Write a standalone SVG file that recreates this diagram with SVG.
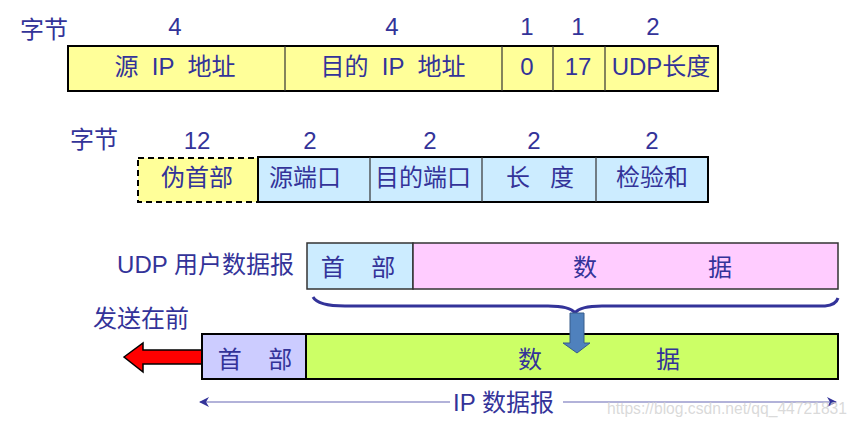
<svg xmlns="http://www.w3.org/2000/svg" width="858" height="425" viewBox="0 0 858 425">
<defs>
<style>
text{font-family:"Liberation Sans","Noto Sans CJK SC",sans-serif;font-size:24px;fill:#333399}
.c{text-anchor:middle}
.box{stroke:#000;stroke-width:2}
.div{stroke:#333;stroke-width:1.2}
.yl{fill:#FFFF99}.bl{fill:#CCECFF}.pk{fill:#FFCCFF}.pu{fill:#CCCCFF}.gr{fill:#CCFF66}
.wm{font-size:16px;fill:#d0d0d0;fill-opacity:0.8}
</style>
<marker id="ah" viewBox="0 0 10 10" refX="9" refY="5" markerWidth="10" markerHeight="10" markerUnits="userSpaceOnUse" orient="auto-start-reverse">
<path d="M0,0 L10,5 L0,10 L3,5 Z" fill="#333399"/>
</marker>
</defs>
<rect width="858" height="425" fill="#fff"/>

<g id="row1">
<text x="20" y="38">字节</text>
<text class="c" x="175" y="35">4</text>
<text class="c" x="392" y="35">4</text>
<text class="c" x="527" y="35">1</text>
<text class="c" x="578" y="35">1</text>
<text class="c" x="653" y="35">2</text>
<rect class="yl box" x="68" y="46" width="650" height="45"/>
<line class="div" x1="285" y1="46" x2="285" y2="91"/>
<line class="div" x1="502" y1="46" x2="502" y2="91"/>
<line class="div" x1="553" y1="46" x2="553" y2="91"/>
<line class="div" x1="605" y1="46" x2="605" y2="91"/>
<text class="c" x="175" y="75" xml:space="preserve">源  IP  地址</text>
<text class="c" x="393" y="75" xml:space="preserve">目的  IP  地址</text>
<text class="c" x="527" y="75">0</text>
<text class="c" x="578" y="75">17</text>
<text class="c" x="661" y="75">UDP长度</text>
</g>

<g id="row2">
<text x="70" y="148">字节</text>
<text class="c" x="197" y="149">12</text>
<text class="c" x="310" y="149">2</text>
<text class="c" x="430" y="149">2</text>
<text class="c" x="534" y="149">2</text>
<text class="c" x="652" y="149">2</text>
<rect class="yl" x="138" y="158" width="120" height="44" stroke="#000" stroke-width="2" stroke-dasharray="6,4"/>
<rect class="bl box" x="258" y="157" width="450" height="45"/>
<line class="div" x1="370" y1="157" x2="370" y2="202"/>
<line class="div" x1="482" y1="157" x2="482" y2="202"/>
<line class="div" x1="596" y1="157" x2="596" y2="202"/>
<text class="c" x="197" y="186">伪首部</text>
<text class="c" x="305" y="186">源端口</text>
<text class="c" x="423" y="186">目的端口</text>
<text class="c" x="540" y="186" xml:space="preserve">长   度</text>
<text class="c" x="652" y="186">检验和</text>
</g>

<g id="udp">
<text x="294" y="273" text-anchor="end">UDP 用户数据报</text>
<rect class="bl" x="307" y="243" width="106" height="46" stroke="#333" stroke-width="1.5"/>
<rect class="pk" x="413" y="243" width="425" height="46" stroke="#333" stroke-width="1.5"/>
<text class="c" x="358" y="276" xml:space="preserve">首    部</text>
<text class="c" x="585" y="276">数</text>
<text class="c" x="720" y="276">据</text>
</g>

<g id="ip">
<text x="93" y="327">发送在前</text>
<path d="M124,357 L143,343 L143,350 L202,350 L202,364 L143,364 L143,372 Z" fill="#FF0000" stroke="#000" stroke-width="1.5"/>
<rect class="pu box" x="202" y="334" width="104" height="45"/>
<rect class="gr box" x="306" y="334" width="532" height="45"/>
<text class="c" x="255" y="368" xml:space="preserve">首    部</text>
<text class="c" x="530" y="368">数</text>
<text class="c" x="668" y="368">据</text>
<text x="453" y="411">IP 数据报</text>
</g>

<g id="connectors">
<path d="M313,297 Q318,306 345,306 L548,306 Q570,306 575,313 Q580,306 602,306 L825,306 Q836,305 838,298" fill="none" stroke="#333399" stroke-width="3"/>
<path d="M570,313 L584,313 L584,343 L590,343 L577,353 L563,343 L570,343 Z" fill="#4F81BD" stroke="#385D8A" stroke-width="1"/>
<line x1="450" y1="402" x2="200" y2="402" stroke="#9999CC" stroke-width="1.5" marker-end="url(#ah)"/>
<line x1="563" y1="402" x2="836" y2="402" stroke="#9999CC" stroke-width="1.5" marker-end="url(#ah)"/>
</g>

<text class="wm" x="607" y="414" textLength="240" lengthAdjust="spacingAndGlyphs">https://blog.csdn.net/qq_44721831</text>
</svg>
